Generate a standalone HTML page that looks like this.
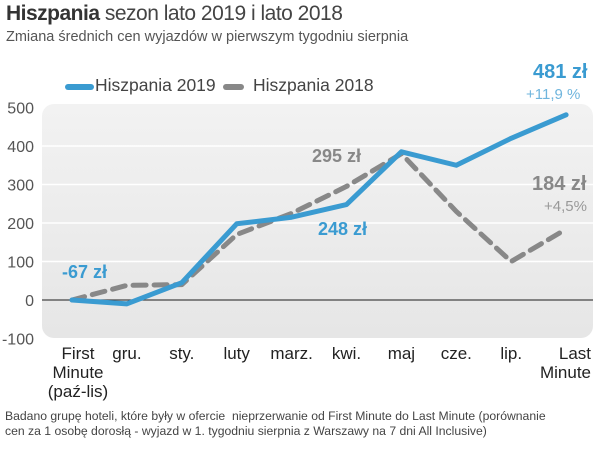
<!DOCTYPE html>
<html><head><meta charset="utf-8"><style>
body{margin:0;width:600px;height:450px;background:#fff;font-family:"Liberation Sans",sans-serif;overflow:hidden;position:relative}
.t{position:absolute;white-space:nowrap}
</style></head><body>
<div class="t" style="left:6px;top:2px;font-size:21px;color:#444;letter-spacing:-0.5px"><b style="color:#333">Hiszpania</b> sezon lato 2019 i lato 2018</div>
<div class="t" style="left:6px;top:29px;font-size:14.5px;color:#555">Zmiana średnich cen wyjazdów w pierwszym tygodniu sierpnia</div>
<svg id="c" width="600" height="450" style="position:absolute;left:0;top:0">
<defs><linearGradient id="g" x1="0" y1="0" x2="0" y2="1"><stop offset="0" stop-color="#f2f2f2"/><stop offset="1" stop-color="#e6e6e6"/></linearGradient></defs>
<rect x="42" y="104" width="551" height="234" rx="12" fill="url(#g)"/>
<g id="grid"></g><g id="lines"></g>
</svg>
<div class="t" style="left:95px;top:75px;font-size:17.5px;color:#444">Hiszpania 2019</div>
<div class="t" style="left:253px;top:75px;font-size:17.5px;color:#444">Hiszpania 2018</div>
<div class="t" style="left:62px;top:262px;font-size:18px;font-weight:bold;color:#3a9bd1">-67 zł</div>
<div class="t" style="left:318px;top:219px;font-size:18px;font-weight:bold;color:#3a9bd1">248 zł</div>
<div class="t" style="left:312px;top:146px;font-size:18px;font-weight:bold;color:#888">295 zł</div>
<div class="t" style="left:533px;top:61px;font-size:20px;font-weight:bold;color:#3a9bd1">481 zł</div>
<div class="t" style="left:526px;top:86px;font-size:15px;color:#6fb5dd">+11,9 %</div>
<div class="t" style="left:532px;top:173px;font-size:20px;font-weight:bold;color:#888">184 zł</div>
<div class="t" style="left:544px;top:198px;font-size:15px;color:#999">+4,5%</div>
<div class="t" style="left:5px;top:409px;font-size:12.2px;color:#444;line-height:15px">Badano grupę hoteli, które były w ofercie&nbsp; nieprzerwanie od First Minute do Last Minute (porównanie<br>cen za 1 osobę dorosłą - wyjazd w 1. tygodniu sierpnia z Warszawy na 7 dni All Inclusive)</div>
<script>
const categories=["First\nMinute\n(paź-lis)","gru.","sty.","luty","marz.","kwi.","maj","cze.","lip.","Last\nMinute"];
const s2019=[0,-10,45,198,215,248,385,350,420,481];
const s2018=[0,38,40,170,225,295,380,230,100,184];
const yTicks=[-100,0,100,200,300,400,500];
const NS="http://www.w3.org/2000/svg";
const X=i=>72+i*54.9, Y=v=>300-0.385*v;
const grid=document.getElementById('grid'),lines=document.getElementById('lines'),svg=document.getElementById('c');
function mk(t,a,p){const e=document.createElementNS(NS,t);for(const k in a)e.setAttribute(k,a[k]);p.appendChild(e);return e;}
yTicks.forEach(v=>{
 if(v>-100&&v<500){const l=mk('line',{x1:42,x2:593,y1:Y(v),y2:Y(v),stroke:v==0?'#444':'#fff','stroke-width':v==0?1.2:1.5},grid);
 
 }
 const t=mk('text',{x:34,y:Y(v)+6,'text-anchor':'end','font-size':16,fill:'#555','font-family':'Liberation Sans'},grid);
 t.textContent=v;
 
 
});
categories.forEach((c,i)=>{
 const t=mk('text',{x:i==0?X(i)+6:X(i),y:359,'text-anchor':i==9?'end':'middle','font-size':17,fill:'#222','font-family':'Liberation Sans'},svg);
 if(i==9)t.setAttribute('x',591);
 c.split('\n').forEach((s,j)=>{const ts=mk('tspan',{x:t.getAttribute('x'),dy:j?19:0},t);ts.textContent=s;});
 
 
});
const pts=a=>a.map((v,i)=>X(i)+','+Y(v)).join(' ');
const l18=mk('polyline',{points:pts(s2018),fill:'none',stroke:'#888','stroke-width':5,'stroke-dasharray':'13 8','stroke-linejoin':'round','stroke-linecap':'round'},lines);


const l19=mk('polyline',{points:pts(s2019),fill:'none',stroke:'#3a9bd1','stroke-width':5,'stroke-linejoin':'round','stroke-linecap':'round'},lines);


const k1=mk('line',{x1:68,x2:91,y1:87,y2:87,stroke:'#3a9bd1','stroke-width':6,'stroke-linecap':'round'},svg);


const k2=mk('line',{x1:226,x2:241,y1:87,y2:87,stroke:'#888','stroke-width':6,'stroke-linecap':'round'},svg);


</script>
</body></html>
